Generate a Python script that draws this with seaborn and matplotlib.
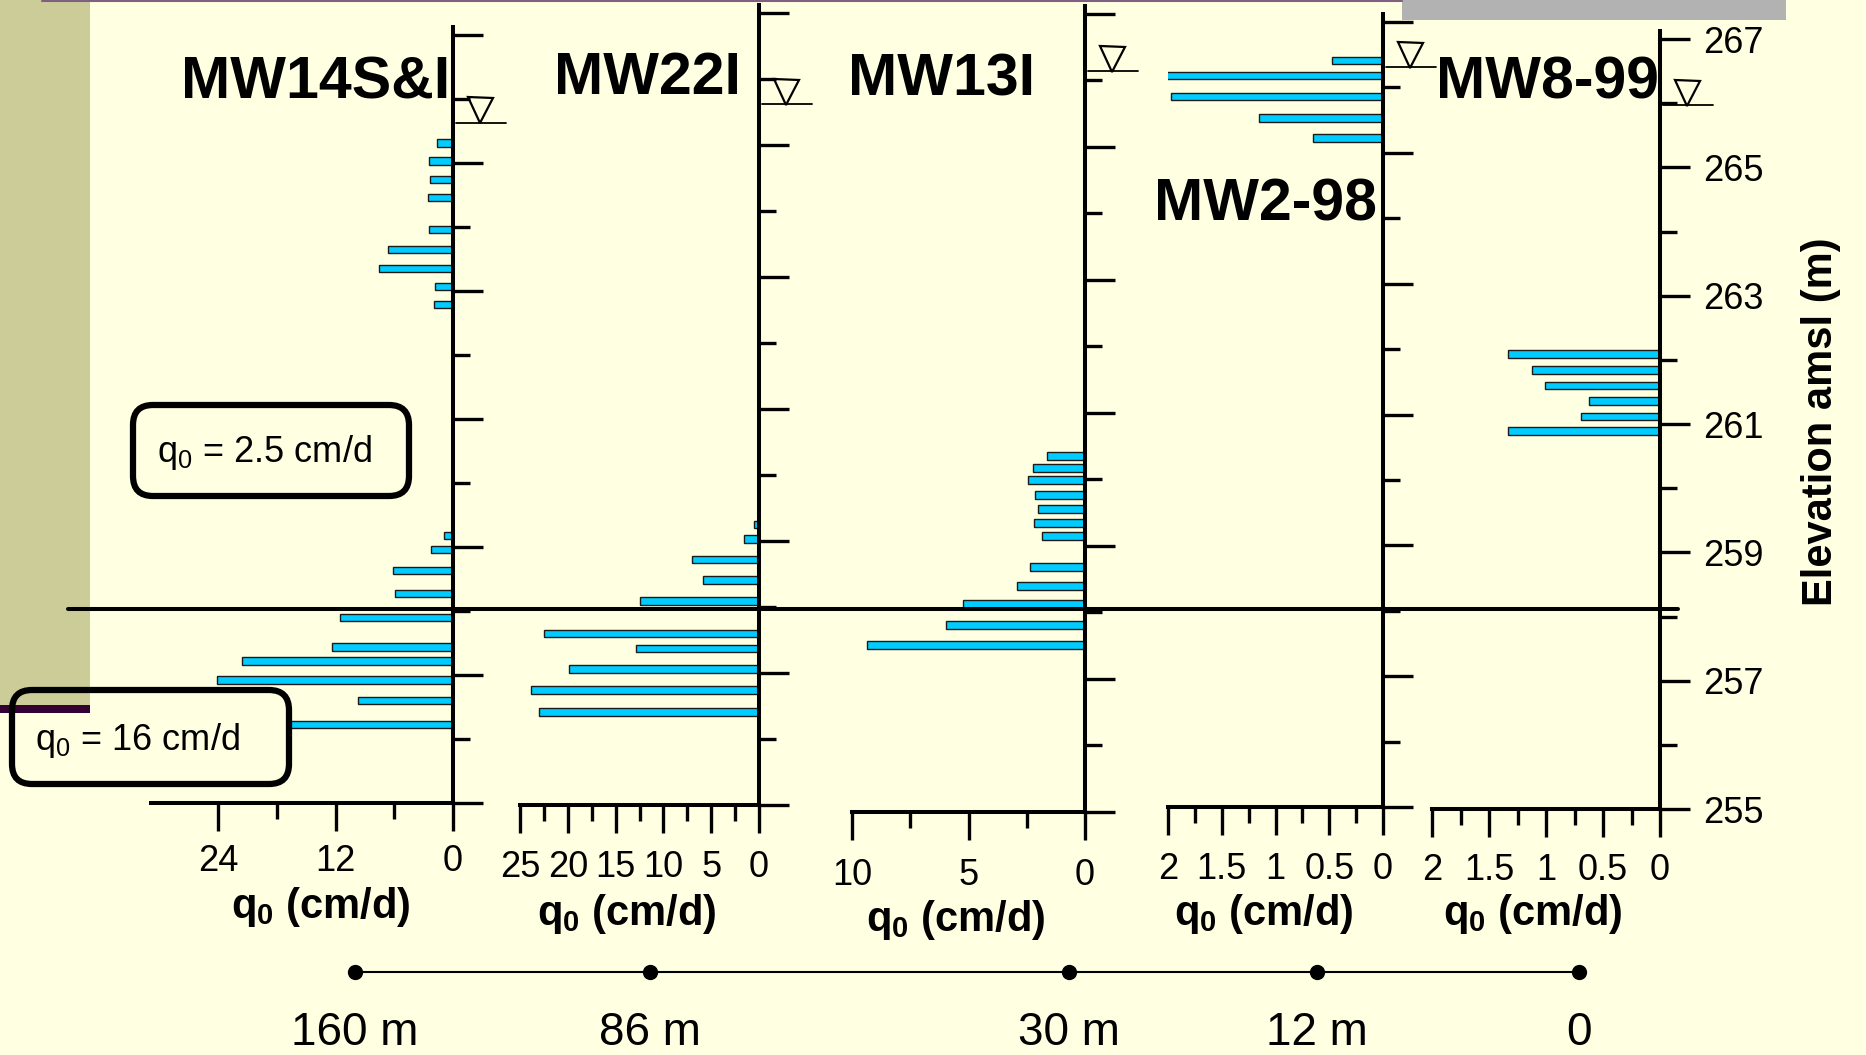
import numpy as np
import pandas as pd
import seaborn as sns
import matplotlib
matplotlib.use("Agg")
import matplotlib.pyplot as plt
from matplotlib import transforms
from matplotlib.patches import FancyBboxPatch, Rectangle
from matplotlib.lines import Line2D
from matplotlib.ticker import FixedLocator, FormatStrFormatter

# ---------------- data ----------------
wells = ["MW14S&I", "MW22I", "MW13I", "MW2-98", "MW8-99"]
distance_m = [160, 86, 30, 12, 0]
distance_labels = ["160 m", "86 m", "30 m", "12 m", "0"]

mw14_elev = [265.31, 265.03, 264.74, 264.46, 263.96, 263.65, 263.35, 263.07, 262.79,
             259.18, 258.96, 258.63, 258.27, 257.90, 257.44, 257.22, 256.92, 256.60, 256.23]
mw14_q = [1.6, 2.5, 2.4, 2.6, 2.5, 6.6, 7.6, 1.8, 1.95,
          0.9, 2.2, 6.1, 5.9, 11.6, 12.4, 21.6, 24.1, 9.7, 16.7]
mw22_elev = [259.25, 259.03, 258.72, 258.41, 258.09, 257.60, 257.37, 257.06, 256.74, 256.41]
mw22_q = [0.55, 1.6, 7.0, 5.9, 12.4, 22.5, 12.9, 19.9, 23.9, 23.0]
mw13_elev = [260.35, 260.17, 259.99, 259.77, 259.56, 259.35, 259.15,
             258.68, 258.40, 258.13, 257.81, 257.51]
mw13_q = [1.65, 2.25, 2.45, 2.15, 2.0, 2.2, 1.85, 2.35, 2.9, 5.25, 5.95, 9.35]
mw2_elev = [266.41, 266.18, 265.86, 265.53, 265.23]
mw2_q = [0.47, 2.11, 1.97, 1.15, 0.65]
mw8_elev = [262.09, 261.84, 261.60, 261.36, 261.12, 260.89]
mw8_q = [1.33, 1.12, 1.01, 0.62, 0.69, 1.33]

water_level = [265.63, 265.62, 266.14, 266.31, 265.97]
boundary_elev = 258.12
x_max = [30.9, 25, 10, 2, 2]
x_major = [12, 5, 5, 0.5, 0.5]
elev_range = (255, 267)
box_texts = ["q$_0$ = 2.5 cm/d", "q$_0$ = 16 cm/d"]
xlabel_text = r"q$_\mathbf{0}$ (cm/d)"
ylabel_text = "Elevation amsl (m)"

elevs = [mw14_elev, mw22_elev, mw13_elev, mw2_elev, mw8_elev]
qs = [mw14_q, mw22_q, mw13_q, mw2_q, mw8_q]

# ---------------- style ----------------
sns.set_style("ticks")
plt.rcParams["font.family"] = ["Liberation Sans", "DejaVu Sans"]
plt.rcParams["mathtext.fontset"] = "custom"
plt.rcParams["mathtext.rm"] = "Liberation Sans"
plt.rcParams["mathtext.it"] = "Liberation Sans:italic"
plt.rcParams["mathtext.bf"] = "Liberation Sans:bold"
for k in ["text.color", "axes.labelcolor", "xtick.color", "ytick.color", "axes.edgecolor"]:
    plt.rcParams[k] = "black"

bg = "#FFFFE1"
bar_color = "#00CCFF"
W, H = 1866, 1055


def fx(px):
    return px / W


def fy(py):
    return 1 - py / H


fig = plt.figure(figsize=(W / 100, H / 100), dpi=100)
fig.patch.set_facecolor(bg)

# decorative slide elements
fig.add_artist(Rectangle((0, fy(705)), fx(90), 1 - fy(705), transform=fig.transFigure,
                         color="#CCCC99", zorder=0, lw=0))
fig.add_artist(Rectangle((0, fy(713)), fx(90), fy(705) - fy(713), transform=fig.transFigure,
                         color="#330033", zorder=0, lw=0))
fig.add_artist(Rectangle((fx(1402), fy(20)), fx(1786) - fx(1402), 1 - fy(20),
                         transform=fig.transFigure, color="#B2B2B2", zorder=0, lw=0))
fig.add_artist(Line2D([fx(42), fx(1402)], [fy(1), fy(1)], transform=fig.transFigure,
                      color="#806080", lw=1.5, zorder=1))

# panel layout in pixels: left, spine(right), top, bottom
ax_px = [(151, 453, 27.3, 803), (520, 759, 5.1, 805), (852, 1085, 6.0, 812),
         (1168, 1383, 14.2, 807), (1432, 1660, 31.3, 809)]
title_px = [(316, 83), (647, 79), (941, 80), (1265, 205), (1547, 83)]
xlabel_px = [(321, 907), (627, 914), (956, 920), (1264, 914), (1533, 914)]
xtick_pad = [9.0, 12.5, 13.0, 12.0, 11.5]
ylim_top = 267.12
bar_h = 0.115

axes = []
for i in range(5):
    l, r, t, b = ax_px[i]
    ax = fig.add_axes([fx(l), fy(b), fx(r) - fx(l), fy(t) - fy(b)])
    ax.set_facecolor("none")
    df = pd.DataFrame({"elev": elevs[i], "q": qs[i]})
    nw = np.diff(np.unique(df["elev"])).min()
    sns.barplot(data=df, x="q", y="elev", orient="y", native_scale=True,
                width=bar_h / nw, color=bar_color, saturation=1,
                edgecolor="#1a1a1a", linewidth=1.0, errorbar=None, ax=ax)
    ax.set_xlim(x_max[i], 0)
    ax.set_ylim(elev_range[0], ylim_top)

    for s in ["left", "top"]:
        ax.spines[s].set_visible(False)
    for s in ["right", "bottom"]:
        ax.spines[s].set_linewidth(2.9)
        ax.spines[s].set_color("black")

    # y ticks on the right
    ax.yaxis.tick_right()
    ax.yaxis.set_major_locator(FixedLocator(np.arange(elev_range[0], elev_range[1] + 1, 2)))
    ax.yaxis.set_minor_locator(FixedLocator(np.arange(elev_range[0] + 1, elev_range[1], 2)))
    ax.yaxis.set_major_formatter(FormatStrFormatter("%d"))
    ax.tick_params(axis="y", which="major", direction="out", length=21.6, width=2.4,
                   labelright=(i == 4), labelleft=False, labelsize=26, pad=9.4,
                   colors="black")
    ax.tick_params(axis="y", which="minor", direction="out", length=12.2, width=2.4,
                   colors="black")

    # x ticks
    step = x_major[i]
    last = np.floor(x_max[i] / step + 1e-9) * step
    ax.xaxis.set_major_locator(FixedLocator(np.arange(0, last + step / 2, step)))
    ax.xaxis.set_minor_locator(FixedLocator(np.arange(step / 2, last, step)))
    ax.xaxis.set_major_formatter(FormatStrFormatter("%g"))
    ax.tick_params(axis="x", which="major", direction="out", length=20.2, width=2.4,
                   labelsize=26, pad=xtick_pad[i], colors="black")
    ax.tick_params(axis="x", which="minor", direction="out", length=11.5, width=2.4,
                   colors="black")

    ax.set_ylabel("")
    ax.set_xlabel(xlabel_text, fontsize=30, fontweight="bold", color="black")
    ax.xaxis.set_label_coords(fx(xlabel_px[i][0]), fy(xlabel_px[i][1]), transform=fig.transFigure)
    ax.xaxis.label.set_verticalalignment("center")

    # water level symbol
    axw = r - l
    blend = transforms.blended_transform_factory(ax.transAxes, ax.transData)
    ax.plot([1 + 3 / axw, 1 + 53 / axw], [water_level[i]] * 2, transform=blend,
            color="black", lw=1.3, clip_on=False)
    tri_tr = transforms.offset_copy(blend, fig=fig, x=0, y=12.5, units="dots")
    ax.plot([1 + 27 / axw], [water_level[i]], transform=tri_tr, marker="v", ms=18,
            mfc="none", mec="black", mew=1.6, clip_on=False, ls="none")

    fig.text(fx(title_px[i][0]), fy(title_px[i][1]), wells[i], fontsize=42.5,
             fontweight="bold", ha="center", va="center", color="black")
    axes.append(ax)

# elevation label
fig.text(fx(1821), fy(422), ylabel_text, rotation=90, fontsize=30, fontweight="bold",
         ha="center", va="center", color="black")

# boundary line across all panels
bl_tr = transforms.blended_transform_factory(fig.transFigure, axes[4].transData)
fig.add_artist(Line2D([fx(68), fx(1678)], [boundary_elev] * 2, transform=bl_tr,
                      color="black", lw=2.9, zorder=10))

# annotation boxes
box_px = [(133, 405, 409, 496), (12, 690, 289, 784)]
box_text_px = [(264, 452), (137, 740)]
for (x0, y0, x1, y1), txt, (tx, ty) in zip(box_px, box_texts, box_text_px):
    p = FancyBboxPatch((x0 / 100, (H - y1) / 100), (x1 - x0) / 100, (y1 - y0) / 100,
                       boxstyle="round,pad=0,rounding_size=0.2",
                       transform=fig.dpi_scale_trans, fc="none", ec="black", lw=4.5,
                       zorder=11)
    fig.add_artist(p)
    fig.text(fx(tx), fy(ty), txt, fontsize=26, ha="center", va="center", color="black")

# distance line (schematic, compressed distance scale)
axd = fig.add_axes([fx(355), fy(1000), fx(1579) - fx(355), fy(944) - fy(1000)])
axd.set_xscale("function", functions=(lambda v: np.log(np.clip(v, -19, None) + 20),
                                      lambda u: np.exp(u) - 20))
axd.set_xlim(160, 0)
axd.set_ylim(-1, 1)
axd.axis("off")
axd.plot(distance_m, [0] * len(distance_m), color="black", lw=1.5, marker="o", ms=10,
         clip_on=False)
for d, lab in zip(distance_m, distance_labels):
    axd.annotate(lab, (d, 0), xytext=(0, -61), textcoords="offset pixels",
                 ha="center", va="center", fontsize=33, color="black")

fig.savefig("out.png", dpi=100, facecolor=bg)
